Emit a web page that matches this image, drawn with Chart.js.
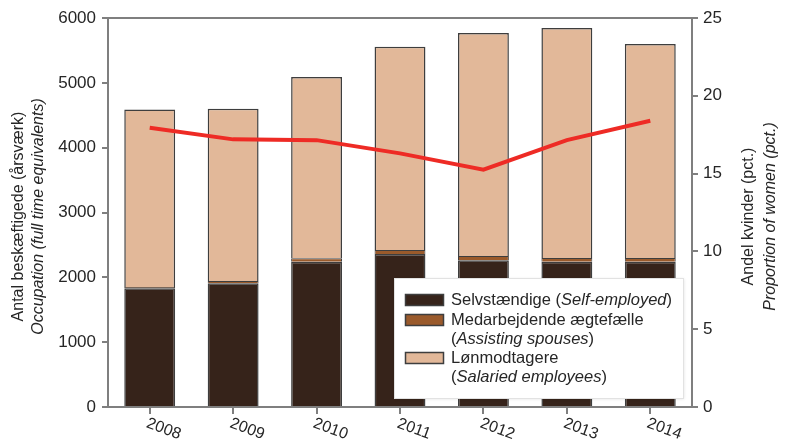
<!DOCTYPE html>
<html>
<head>
<meta charset="utf-8">
<script src="https://cdn.jsdelivr.net/npm/chart.js@4.4.1/dist/chart.umd.min.js"></script>
<style>
html,body{margin:0;padding:0;background:#fff;}
#wrap{position:relative;width:791px;height:442px;}
</style>
</head>
<body>
<div id="wrap"><canvas id="c" width="791" height="442"></canvas></div>
<script>
const years = ['2008','2009','2010','2011','2012','2013','2014'];
const selfEmployed = [1830, 1910, 2240, 2360, 2265, 2240, 2240];
const assistingSpouses = [20, 35, 55, 60, 65, 60, 60];
const salaried = [2740, 2655, 2795, 3135, 3440, 3545, 3300];
const womenPct = [17.95, 17.2, 17.15, 16.3, 15.25, 17.15, 18.4];
const leftTicks = [0, 1000, 2000, 3000, 4000, 5000, 6000];
const rightTicks = [0, 5, 10, 15, 20, 25];

const FONT = '"Liberation Sans", Arial, sans-serif';
const AX = '#7f7f7f';
const TXT = '#262626';
const BORDER = '#3e3e3e';

const customDraw = {
  id: 'customDraw',
  afterDraw(chart) {
    const ctx = chart.ctx;
    const ca = chart.chartArea;
    const xs = chart.scales.x;
    ctx.save();
    // top frame line
    ctx.strokeStyle = AX; ctx.lineWidth = 2;
    ctx.beginPath(); ctx.moveTo(ca.left - 1, ca.top); ctx.lineTo(ca.right + 1, ca.top); ctx.stroke();
    // rotated x labels
    ctx.fillStyle = TXT;
    ctx.font = '16px ' + FONT;
    ctx.textAlign = 'center'; ctx.textBaseline = 'middle';
    years.forEach((y, i) => {
      const px = xs.getPixelForValue(i);
      ctx.save();
      ctx.translate(px + 14, ca.bottom + 22);
      ctx.rotate(20 * Math.PI / 180);
      ctx.fillText(y, 0, 0);
      ctx.restore();
    });
    // left axis title
    const cy = (ca.top + ca.bottom) / 2 + 4;
    ctx.save();
    ctx.translate(19, cy); ctx.rotate(-Math.PI / 2);
    ctx.font = '16px ' + FONT; ctx.fillText('Antal beskæftigede (årsværk)', 0, 0);
    ctx.restore();
    ctx.save();
    ctx.translate(39, cy); ctx.rotate(-Math.PI / 2);
    ctx.font = 'italic 16px ' + FONT; ctx.fillText('Occupation (full time equivalents)', 0, 0);
    ctx.restore();
    // right axis title
    ctx.save();
    ctx.translate(749, cy); ctx.rotate(-Math.PI / 2);
    ctx.font = '16px ' + FONT; ctx.fillText('Andel kvinder (pct.)', 0, 0);
    ctx.restore();
    ctx.save();
    ctx.translate(771, cy); ctx.rotate(-Math.PI / 2);
    ctx.font = 'italic 16px ' + FONT; ctx.fillText('Proportion of women (pct.)', 0, 0);
    ctx.restore();
    // legend
    const lx = 394, ly = 278, lw = 289, lh = 120;
    ctx.fillStyle = '#fff';
    ctx.shadowColor = 'rgba(0,0,0,0.12)'; ctx.shadowBlur = 3; ctx.shadowOffsetX = 1; ctx.shadowOffsetY = 1;
    ctx.fillRect(lx, ly, lw, lh);
    ctx.shadowColor = 'transparent';
    ctx.strokeStyle = '#e2e2e2'; ctx.lineWidth = 1;
    ctx.strokeRect(lx + 0.5, ly + 0.5, lw, lh);
    const ds = chart.data.datasets;
    const items = [
      { color: ds[0].backgroundColor, boxY: 300, lines: [[['Selvstændige (', false], ['Self-employed', true], [')', false]]] },
      { color: ds[1].backgroundColor, boxY: 320, lines: [[['Medarbejdende ægtefælle', false]], [['(', false], ['Assisting spouses', true], [')', false]]] },
      { color: ds[2].backgroundColor, boxY: 358, lines: [[['Lønmodtagere', false]], [['(', false], ['Salaried employees', true], [')', false]]] }
    ];
    ctx.textAlign = 'left'; ctx.textBaseline = 'middle';
    items.forEach(it => {
      ctx.fillStyle = it.color;
      ctx.fillRect(405, it.boxY - 5, 38, 11);
      ctx.strokeStyle = BORDER; ctx.lineWidth = 1.5;
      ctx.strokeRect(405.5, it.boxY - 5.5, 38, 11);
      it.lines.forEach((ln, k) => {
        let x = 451;
        const y = it.boxY + k * 19.5;
        ln.forEach(([t, ital]) => {
          ctx.font = (ital ? 'italic ' : '') + '16.5px ' + FONT;
          ctx.fillStyle = TXT;
          ctx.fillText(t, x, y);
          x += ctx.measureText(t).width;
        });
      });
    });
    ctx.restore();
  }
};

const barCommon = { type: 'bar', borderColor: BORDER, yAxisID: 'y', order: 2, barPercentage: 0.61, categoryPercentage: 1 };

new Chart(document.getElementById('c'), {
  data: {
    labels: years,
    datasets: [
      Object.assign({}, barCommon, { label: 'Selvstændige', data: selfEmployed, backgroundColor: '#36231a', borderWidth: 1.5 }),
      Object.assign({}, barCommon, { label: 'Medarbejdende ægtefælle', data: assistingSpouses, backgroundColor: '#9a5a2b', borderWidth: 1 }),
      Object.assign({}, barCommon, { label: 'Lønmodtagere', data: salaried, backgroundColor: '#e2b899', borderWidth: 1.5 }),
      { type: 'line', label: 'Andel kvinder', data: womenPct, borderColor: '#ee2b25', borderWidth: 4, pointRadius: 0, tension: 0, yAxisID: 'y1', order: 0 }
    ]
  },
  options: {
    responsive: false,
    animation: false,
    layout: { padding: { top: 18, left: 0, right: 0, bottom: 0 } },
    plugins: { legend: { display: false }, tooltip: { enabled: false } },
    scales: {
      x: {
        stacked: true,
        offset: true,
        grid: { display: true, drawOnChartArea: false, drawTicks: true, tickLength: 7, color: AX, lineWidth: 2, offset: false },
        border: { display: true, color: AX, width: 2 },
        ticks: { display: false },
        afterFit(s) { s.height = 35; }
      },
      y: {
        stacked: true,
        position: 'left',
        min: 0, max: 6000,
        afterBuildTicks(s) { s.ticks = leftTicks.map(v => ({ value: v })); },
        grid: { display: true, drawOnChartArea: false, tickLength: 6, color: AX, lineWidth: 2 },
        border: { display: true, color: AX, width: 2 },
        ticks: { color: TXT, font: { family: FONT, size: 17 }, padding: 6, callback: v => String(v) },
        afterFit(s) { s.width = 108; }
      },
      y1: {
        position: 'right',
        min: 0, max: 25,
        afterBuildTicks(s) { s.ticks = rightTicks.map(v => ({ value: v })); },
        grid: { display: true, drawOnChartArea: false, tickLength: 6, color: AX, lineWidth: 2 },
        border: { display: true, color: AX, width: 2 },
        ticks: { color: TXT, font: { family: FONT, size: 17 }, padding: 5, callback: v => String(v) },
        afterFit(s) { s.width = 99; }
      }
    }
  },
  plugins: [customDraw]
});
</script>
</body>
</html>
